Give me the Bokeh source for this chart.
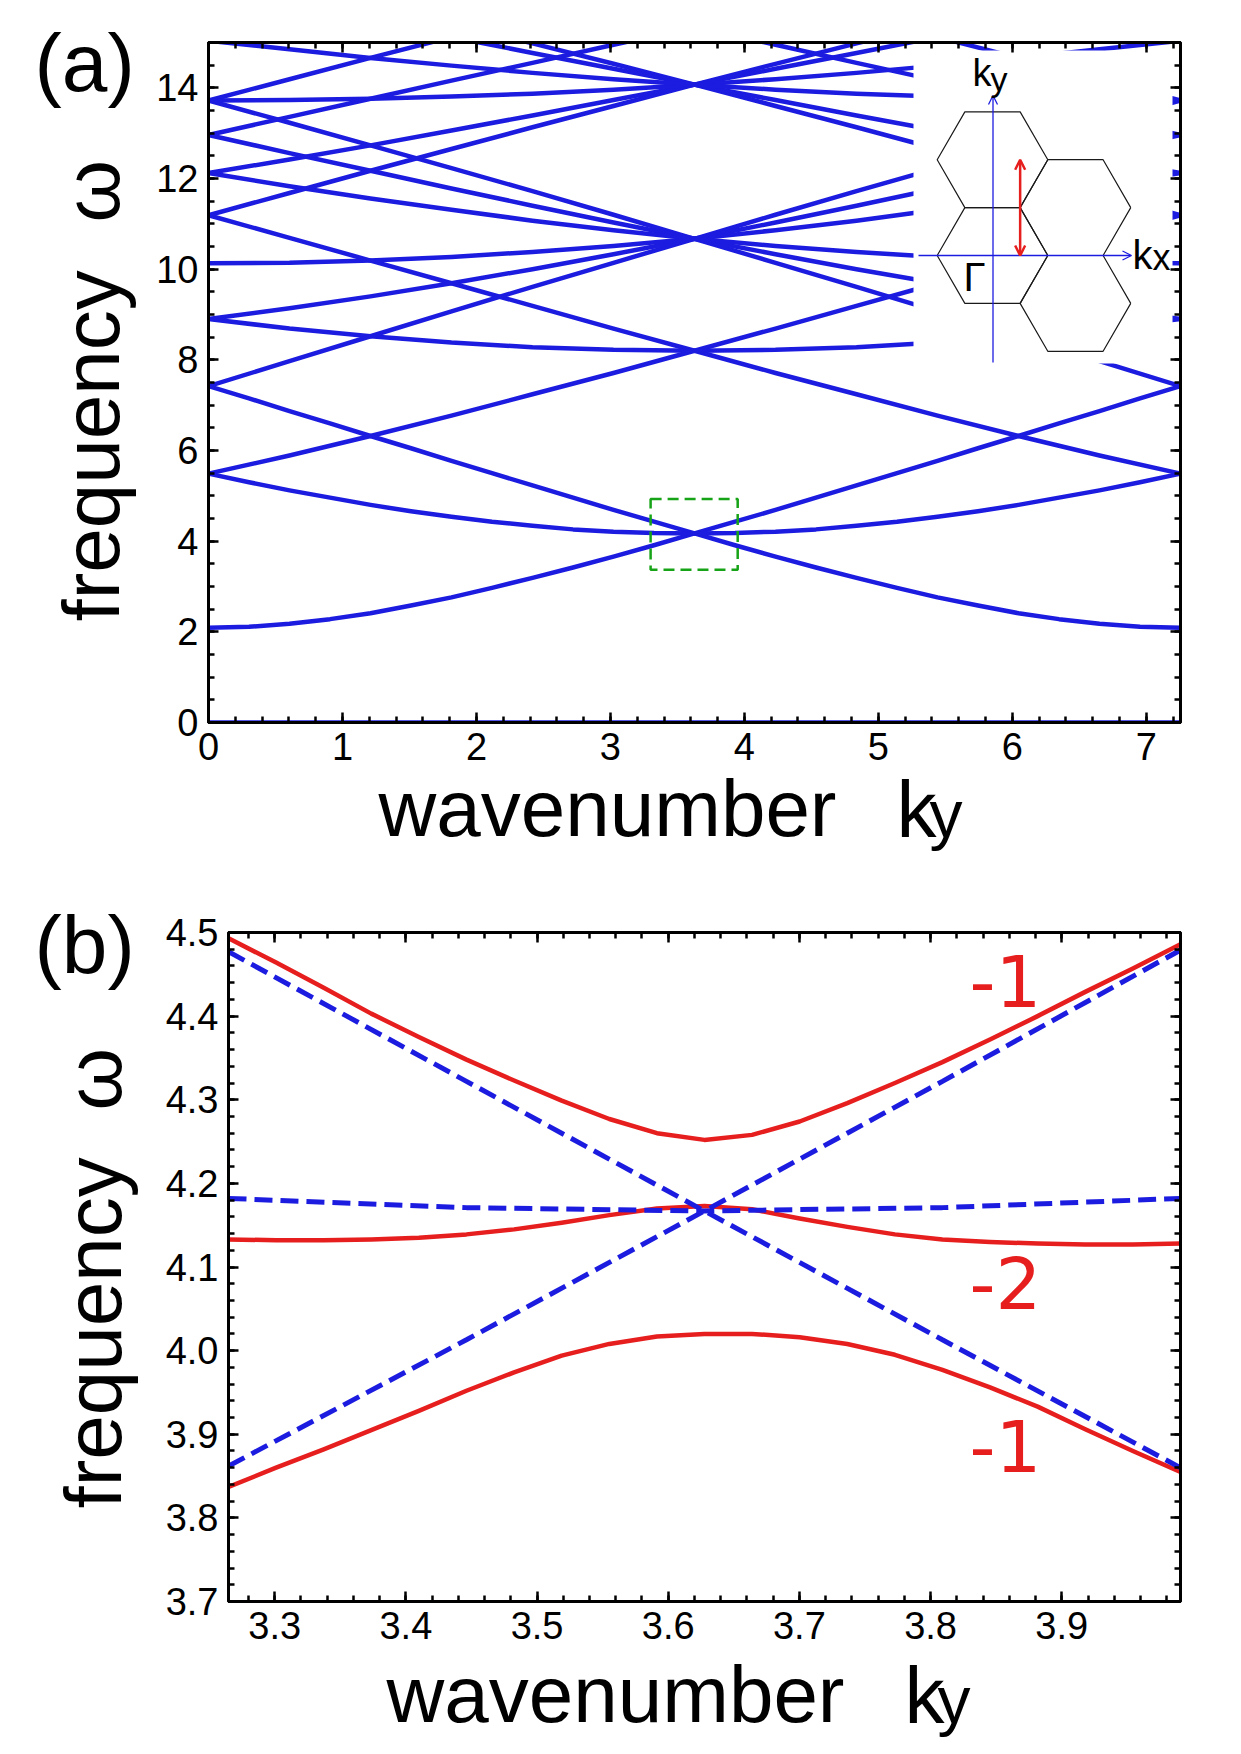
import math

from bokeh.embed import file_html
from bokeh.layouts import column, row
from bokeh.models import (Arrow, CustomJSTickFormatter, FixedTicker, GridBox, Label,
                          LinearAxis, OpenHead, PrintfTickFormatter, Range1d, Spacer)
from bokeh.plotting import figure
from bokeh.resources import INLINE

BLUE = "#1c1ce0"
RED = "#e61e1e"
GREEN = "#17a317"
FONT = "Liberation Sans"

# ---------------------------------------------------------------- panel (a)
# zone edge along ky and the ky samples of the bands
KY_MAX = 7.2552
KY_A = [0.0, 0.6046, 1.2092, 1.8138, 2.4184, 3.0230, 3.6276,
        4.2322, 4.8368, 5.4414, 6.0460, 6.6506, 7.2552]
KY_FINE = [0.0, 0.3023, 0.6046, 0.9069, 1.2092, 1.5115, 1.8138, 2.1161, 2.4184,
           2.7207, 3.0230, 3.3253, 3.6276, 3.9299, 4.2322, 4.5345, 4.8368,
           5.1391, 5.4414, 5.7437, 6.0460, 6.3483, 6.6506, 6.9529, 7.2552]

# strongly curved low bands, at KY_FINE
W_00 = [2.09, 2.11, 2.18, 2.28, 2.41, 2.58, 2.76, 2.97, 3.19, 3.42, 3.66, 3.91, 4.17,
        4.43, 4.69, 4.96, 5.23, 5.50, 5.77, 6.05, 6.32, 6.60, 6.87, 7.15, 7.42]
W_0M1 = [7.42, 7.15, 6.87, 6.60, 6.32, 6.05, 5.77, 5.50, 5.23, 4.96, 4.69, 4.43, 4.17,
         3.91, 3.66, 3.42, 3.19, 2.97, 2.76, 2.58, 2.41, 2.28, 2.18, 2.11, 2.09]
W_M10 = [5.49, 5.30, 5.12, 4.96, 4.80, 4.66, 4.54, 4.43, 4.34, 4.26, 4.21, 4.18, 4.17,
         4.18, 4.21, 4.26, 4.34, 4.43, 4.54, 4.66, 4.80, 4.96, 5.12, 5.30, 5.49]

# remaining bands at KY_A (None: above the top of the frame)
W_FLAT = [0.00, 0.00, 0.00, 0.00, 0.00, 0.00, 0.00, 0.00, 0.00, 0.00, 0.00, 0.00, 0.00]
W_M11 = [5.49, 5.89, 6.32, 6.77, 7.24, 7.71, 8.20, 8.69, 9.19, 9.69, 10.19, 10.69, 11.19]
W_M1M1 = [11.19, 10.69, 10.19, 9.69, 9.19, 8.69, 8.20, 7.71, 7.24, 6.77, 6.32, 5.89, 5.49]
W_1M1 = [8.90, 8.69, 8.52, 8.38, 8.28, 8.22, 8.20, 8.22, 8.28, 8.38, 8.52, 8.69, 8.90]
W_01 = [7.42, 7.97, 8.52, 9.07, 9.61, 10.14, 10.67, 11.20, 11.72, 12.23, 12.73, 13.23, 13.72]
W_0M2 = [13.72, 13.23, 12.73, 12.23, 11.72, 11.20, 10.67, 10.14, 9.61, 9.07, 8.52, 7.97, 7.42]
W_10 = [8.90, 9.14, 9.40, 9.69, 10.00, 10.33, 10.67, 11.03, 11.40, 11.78, 12.17, 12.56, 12.96]
W_1M2 = [12.96, 12.56, 12.17, 11.78, 11.40, 11.03, 10.67, 10.33, 10.00, 9.69, 9.40, 9.14, 8.90]
W_M21 = [10.13, 10.14, 10.19, 10.27, 10.38, 10.51, 10.67, 10.86, 11.07, 11.31, 11.56, 11.83, 12.12]
W_M20 = [12.12, 11.83, 11.56, 11.31, 11.07, 10.86, 10.67, 10.51, 10.38, 10.27, 10.19, 10.14, 10.13]
W_M12 = [11.19, 11.68, 12.17, 12.65, 13.13, 13.60, 14.07, 14.53, 14.98, 15.42, None, None, None]
W_M1M2 = [None, None, None, 15.42, 14.98, 14.53, 14.07, 13.60, 13.13, 12.65, 12.17, 11.68, 11.19]
W_M22 = [12.12, 12.42, 12.73, 13.06, 13.39, 13.73, 14.07, 14.42, 14.77, 15.12, None, None, None]
W_M2M1 = [None, None, None, 15.12, 14.77, 14.42, 14.07, 13.73, 13.39, 13.06, 12.73, 12.42, 12.12]
W_11 = [12.96, 13.36, 13.76, 14.16, 14.55, 14.95, 15.34, None, None, None, None, None, None]
W_1M3 = [None, None, None, None, None, None, 15.34, 14.95, 14.55, 14.16, 13.76, 13.36, 12.96]
W_02 = [13.72, 14.19, 14.66, 15.12, None, None, None, None, None, None, None, None, None]
W_0M3 = [None, None, None, None, None, None, None, None, None, 15.12, 14.66, 14.19, 13.72]
W_2M1 = [13.72, 13.73, 13.76, 13.81, 13.87, 13.96, 14.07, 14.19, 14.33, 14.49, 14.66, 14.85, 15.04]
W_2M2 = [15.04, 14.85, 14.66, 14.49, 14.33, 14.19, 14.07, 13.96, 13.87, 13.81, 13.76, 13.73, 13.72]

BANDS_FINE = [W_00, W_0M1, W_M10]
BANDS_A = [W_FLAT, W_M11, W_M1M1, W_1M1, W_01, W_0M2, W_10, W_1M2, W_M21, W_M20,
           W_M12, W_M1M2, W_M22, W_M2M1, W_11, W_1M3, W_02, W_0M3, W_2M1, W_2M2]

# region enlarged in panel (b)
ZOOM_BOX_X = [3.30, 3.95]
ZOOM_BOX_Y = [3.37, 4.93]

XTICKS_A = [0, 1, 2, 3, 4, 5, 6, 7]
YTICKS_A = [0, 2, 4, 6, 8, 10, 12, 14]

# ---------------------------------------------------------------- panel (b)
KY_B = [3.2648, 3.3011, 3.3374, 3.3736, 3.4099, 3.4462, 3.4825, 3.5188,
        3.5551, 3.5914, 3.6276, 3.6639, 3.7002, 3.7365, 3.7728, 3.8090,
        3.8453, 3.8816, 3.9179, 3.9542, 3.9905]
W_UPPER = [4.493, 4.464, 4.434, 4.403, 4.375, 4.348, 4.323, 4.299, 4.277, 4.260,
           4.252, 4.258, 4.274, 4.296, 4.320, 4.345, 4.372, 4.400, 4.429, 4.457, 4.486]
W_MIDDLE = [4.133, 4.132, 4.132, 4.133, 4.135, 4.139, 4.145, 4.153, 4.162, 4.170,
            4.173, 4.169, 4.158, 4.148, 4.139, 4.133, 4.130, 4.128, 4.127, 4.127, 4.128]
W_LOWER = [3.837, 3.860, 3.882, 3.905, 3.928, 3.952, 3.974, 3.994, 4.008, 4.017,
           4.020, 4.020, 4.016, 4.008, 3.995, 3.977, 3.956, 3.933, 3.906, 3.880, 3.855]
CHERN = ["-1", "-2", "-1"]

# unperturbed bands (dashed)
KY_REF = [3.2648, 3.4462, 3.6276, 3.8090, 3.9905]
W_REF_RISE = [3.862, 4.013, 4.167, 4.322, 4.479]
W_REF_FALL = [4.477, 4.322, 4.167, 4.013, 3.860]
W_REF_FLAT = [4.182, 4.171, 4.167, 4.171, 4.182]

XTICKS_B = [3.3, 3.4, 3.5, 3.6, 3.7, 3.8, 3.9]
YTICKS_B = [3.7, 3.8, 3.9, 4.0, 4.1, 4.2, 4.3, 4.4, 4.5]

# ---------------------------------------------------------------- geometry
PAGE_W, PAGE_H = 1241, 1754
A_H = 860
B_H = PAGE_H - A_H
B_SHIFT = 20                                      # (b) sits 20 px further right
BORDER_L, BORDER_R = 208, 61
A_L, A_R, A_T, A_B = 208, 1180, 42, 722          # frame of (a), page px
B_L, B_R, B_T, B_B = 228, 1180, 932, 1601        # frame of (b), page px
B_X0, B_X1, B_Y0, B_Y1 = 3.2648, 3.9905, 3.7, 4.5
MID = 0.347                                       # baseline to mid-line, in em


def fxa(px):
    return (px - A_L) * KY_MAX / (A_R - A_L)


def fya(py):
    return (A_B - py) * 15.0 / (A_B - A_T)


def fxb(px):
    return B_X0 + (px - B_L) * (B_X1 - B_X0) / (B_R - B_L)


def fyb(py):
    return B_Y1 - (py - B_T) * (B_Y1 - B_Y0) / (B_B - B_T)


def ident(v):
    return v


def frange(a, b, step, nd):
    n = int(round((b - a) / step))
    return [round(a + i * step, nd) for i in range(n + 1)]


def dress_axes(p, xt, xminor, yt, yminor, fmt_x, fmt_y, stand_x, stand_y):
    p.xaxis.ticker = FixedTicker(ticks=xt, minor_ticks=xminor)
    p.yaxis.ticker = FixedTicker(ticks=yt, minor_ticks=yminor)
    p.xaxis.formatter = fmt_x
    p.yaxis.formatter = fmt_y
    p.xaxis.major_label_standoff = stand_x
    p.yaxis.major_label_standoff = stand_y
    blank = CustomJSTickFormatter(code="return ''")
    p.add_layout(LinearAxis(ticker=FixedTicker(ticks=xt, minor_ticks=xminor),
                            formatter=blank), "above")
    p.add_layout(LinearAxis(ticker=FixedTicker(ticks=yt, minor_ticks=yminor),
                            formatter=blank), "right")
    for ax in p.axis:
        ax.axis_line_color = "black"
        ax.axis_line_width = 3
        ax.major_tick_in = 10
        ax.major_tick_out = 0
        ax.minor_tick_in = 6
        ax.minor_tick_out = 0
        ax.major_tick_line_width = 2.5
        ax.minor_tick_line_width = 2.5
        ax.major_tick_line_color = "black"
        ax.minor_tick_line_color = "black"
        ax.major_label_text_font = FONT
        ax.major_label_text_font_size = "38px"
        ax.major_label_text_color = "black"
    p.xgrid.visible = False
    p.ygrid.visible = False
    p.outline_line_color = "black"
    p.outline_line_width = 3
    p.background_fill_color = None
    p.border_fill_color = None


def put_text(p, fx, fy, bx, by, text, size, color="black", font=FONT, vertical=False):
    """Place text whose baseline starts at page pixel (bx, by)."""
    if vertical:
        ax_, ay_, angle = bx - MID * size, by, math.pi / 2
    else:
        ax_, ay_, angle = bx, by - MID * size, 0.0
    p.add_layout(Label(x=fx(ax_), y=fy(ay_), text=text, text_font=font,
                       text_font_size=f"{size}px", text_color=color,
                       text_align="left", text_baseline="middle", angle=angle))


# ================================================================ panel (a)
pa = figure(width=PAGE_W, height=A_H, output_backend="svg", toolbar_location=None,
            x_range=Range1d(0, KY_MAX), y_range=Range1d(0, 15),
            min_border_left=BORDER_L, min_border_right=BORDER_R,
            min_border_top=A_T, min_border_bottom=A_H - A_B)
dress_axes(pa, XTICKS_A, frange(0, 7.2, 0.2, 1), YTICKS_A, frange(0, 15, 0.5, 1),
           PrintfTickFormatter(format="%d"), PrintfTickFormatter(format="%d"), 10, 10)

for band in BANDS_A:
    xs = [k for k, w in zip(KY_A, band) if w is not None]
    ys = [w for w in band if w is not None]
    pa.line(xs, ys, line_color=BLUE, line_width=4.5, line_join="round")
for band in BANDS_FINE:
    pa.line(KY_FINE, band, line_color=BLUE, line_width=4.5, line_join="round")

pa.quad(left=[ZOOM_BOX_X[0]], right=[ZOOM_BOX_X[1]],
        bottom=[ZOOM_BOX_Y[0]], top=[ZOOM_BOX_Y[1]],
        fill_color=None, line_color=GREEN, line_width=2.5, line_dash="11 6")

# Brillouin-zone sketch: white backdrop, hexagons, axes, sampling path
pa.quad(left=[fxa(913)], right=[fxa(1172)], bottom=[fya(363)], top=[fya(50)],
        fill_color="white", line_color=None)
HEX_A = 55.3
HEX_H = HEX_A * math.sqrt(3) / 2
GX, GY = 992.0, 255.0
for cx, cy in [(GX, GY), (GX, GY - 2 * HEX_H),
               (GX + 1.5 * HEX_A, GY - HEX_H), (GX + 1.5 * HEX_A, GY + HEX_H)]:
    hx = [cx + HEX_A * math.cos(math.radians(60 * i)) for i in range(7)]
    hy = [cy - HEX_A * math.sin(math.radians(60 * i)) for i in range(7)]
    pa.line([fxa(v) for v in hx], [fya(v) for v in hy],
            line_color="#1a1a1a", line_width=1.2)

pa.add_layout(Arrow(end=OpenHead(size=9, line_color=BLUE, line_width=1.3),
                    x_start=fxa(GX + 0.5), y_start=fya(362),
                    x_end=fxa(GX + 0.5), y_end=fya(95),
                    line_color=BLUE, line_width=1.3))
pa.add_layout(Arrow(end=OpenHead(size=9, line_color=BLUE, line_width=1.3),
                    x_start=fxa(918), y_start=fya(GY),
                    x_end=fxa(1131), y_end=fya(GY),
                    line_color=BLUE, line_width=1.3))
pa.add_layout(Arrow(start=OpenHead(size=10, line_color=RED, line_width=2.5),
                    end=OpenHead(size=10, line_color=RED, line_width=2.5),
                    x_start=fxa(GX + HEX_A / 2), y_start=fya(GY),
                    x_end=fxa(GX + HEX_A / 2), y_end=fya(GY - 2 * HEX_H),
                    line_color=RED, line_width=2.5))
put_text(pa, fxa, fya, 972, 86, "k", 38)
put_text(pa, fxa, fya, 990, 90, "y", 34)
put_text(pa, fxa, fya, 1132, 268, "k", 40)
put_text(pa, fxa, fya, 1152, 269, "x", 36)
put_text(pa, fxa, fya, 963, 290, "\u0393", 40)

# ================================================================ panel (b)
pb = figure(width=PAGE_W - B_SHIFT, height=B_H, output_backend="svg", toolbar_location=None,
            x_range=Range1d(B_X0, B_X1), y_range=Range1d(B_Y0, B_Y1),
            min_border_left=BORDER_L, min_border_right=BORDER_R,
            min_border_top=B_T - A_H, min_border_bottom=PAGE_H - B_B)
dress_axes(pb, XTICKS_B, frange(3.28, 3.98, 0.02, 2), YTICKS_B, frange(3.7, 4.5, 0.02, 2),
           PrintfTickFormatter(format="%.1f"), PrintfTickFormatter(format="%.1f"), 10, 10)

for w in (W_UPPER, W_MIDDLE, W_LOWER):
    pb.line(KY_B, w, line_color=RED, line_width=4.5, line_join="round")
for w in (W_REF_RISE, W_REF_FALL, W_REF_FLAT):
    pb.line(KY_REF, w, line_color=BLUE, line_width=5, line_dash="18 8")

for txt, py in zip(CHERN, (1005, 1307, 1470)):
    put_text(pb, fxb, fyb, 969, py, txt, 72, color=RED, font="DejaVu Sans")

# ================================================================ titles
# a transparent page-sized layer carries the panel letters and axis titles
# (positions in page pixels, y downwards)
titles = figure(width=PAGE_W, height=PAGE_H, output_backend="svg", toolbar_location=None,
                x_range=Range1d(0, PAGE_W), y_range=Range1d(PAGE_H, 0),
                x_axis_type=None, y_axis_type=None, min_border=0,
                background_fill_color=None, border_fill_color=None,
                outline_line_color=None)
for letter, base in (("(a)", 90), ("(b)", 972)):
    put_text(titles, ident, ident, 34, base, letter, 82)
for bx, f_start, w_start in ((119, 621, 222), (121, 1508, 1110)):
    put_text(titles, ident, ident, bx, f_start, "frequency", 80, vertical=True)
    put_text(titles, ident, ident, bx, w_start, "\u03c9", 80, vertical=True)
for wx, kx, yx, base in ((378, 896, 929, 836), (386, 904, 937, 1722)):
    put_text(titles, ident, ident, wx, base, "wavenumber", 80)
    put_text(titles, ident, ident, kx, base + 1, "k", 80)
    put_text(titles, ident, ident, yx, base, "y", 66)

panels = column(pa, row(Spacer(width=B_SHIFT, height=B_H), pb))
page = GridBox(children=[(panels, 0, 0), (titles, 0, 0)])
open("out.html", "w").write(file_html(page, INLINE))
